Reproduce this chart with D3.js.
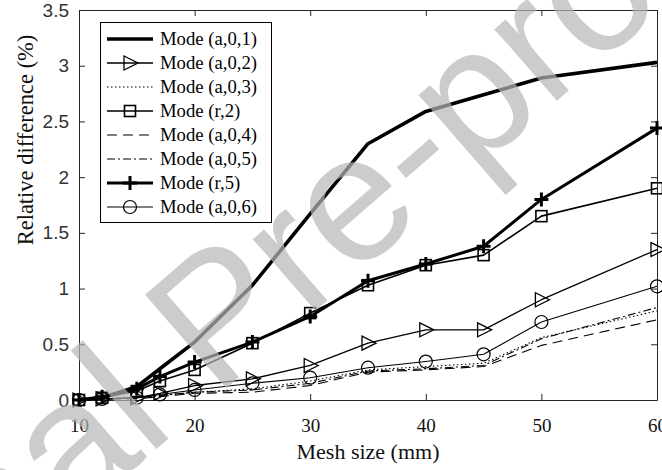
<!DOCTYPE html>
<html>
<head>
<meta charset="utf-8">
<script src="https://cdn.jsdelivr.net/npm/d3@7"></script>
<style>
  body { margin: 0; background: #fff; }
  svg { display: block; }
</style>
</head>
<body>
<script>
// Chart data
var meshSizes = [10, 12, 15, 17, 20, 25, 30, 35, 40, 45, 50, 60];
var modeA01 = [0, 0.02, 0.12, 0.28, 0.52, 1.03, 1.67, 2.30, 2.59, 2.74, 2.89, 3.03];
var modeA02 = [0, 0.01, 0.02, 0.06, 0.13, 0.19, 0.31, 0.51, 0.63, 0.63, 0.90, 1.35];
var modeA03 = [0, 0.01, 0.02, 0.04, 0.07, 0.10, 0.17, 0.27, 0.30, 0.33, 0.56, 0.80];
var modeR2  = [0, 0.02, 0.08, 0.17, 0.27, 0.51, 0.78, 1.03, 1.21, 1.30, 1.65, 1.90];
var modeA04 = [0, 0.01, 0.01, 0.03, 0.06, 0.07, 0.13, 0.25, 0.27, 0.30, 0.49, 0.72];
var modeA05 = [0, 0.01, 0.02, 0.04, 0.07, 0.09, 0.15, 0.26, 0.28, 0.31, 0.55, 0.83];
var modeR5  = [0, 0.03, 0.10, 0.21, 0.34, 0.52, 0.75, 1.07, 1.22, 1.38, 1.80, 2.44];
var modeA06 = [0, 0.01, 0.02, 0.05, 0.09, 0.15, 0.20, 0.29, 0.345, 0.41, 0.70, 1.02];

var seriesNames = ["Mode (a,0,1)", "Mode (a,0,2)", "Mode (a,0,3)", "Mode (r,2)",
                   "Mode (a,0,4)", "Mode (a,0,5)", "Mode (r,5)", "Mode (a,0,6)"];
var xTicks = [10, 20, 30, 40, 50, 60];
var yTicks = [0, 0.5, 1, 1.5, 2, 2.5, 3, 3.5];

// styles per series
var series = [
  { name: seriesNames[0], values: modeA01, width: 3.6, dash: null, marker: null },
  { name: seriesNames[1], values: modeA02, width: 1.3, dash: null, marker: "tri" },
  { name: seriesNames[2], values: modeA03, width: 1.1, dash: "1.5,2.5", marker: null },
  { name: seriesNames[3], values: modeR2,  width: 1.6, dash: null, marker: "square" },
  { name: seriesNames[4], values: modeA04, width: 1.1, dash: "10,6", marker: null },
  { name: seriesNames[5], values: modeA05, width: 1.1, dash: "8,3,2,3", marker: null },
  { name: seriesNames[6], values: modeR5,  width: 3, dash: null, marker: "plus" },
  { name: seriesNames[7], values: modeA06, width: 1.1, dash: null, marker: "circle" }
];

var svgWidth = 662;
var svgHeight = 470;
var margin = { top: 10, right: 5, bottom: 70, left: 79 };
var width = svgWidth - margin.left - margin.right;
var height = svgHeight - margin.top - margin.bottom;

var svg = d3.select("body").append("svg")
  .attr("width", svgWidth)
  .attr("height", svgHeight);

var chartGroup = svg.append("g")
  .attr("transform", `translate(${margin.left}, ${margin.top})`);

var xScale = d3.scaleLinear().domain([10, 60]).range([0, width]);
var yScale = d3.scaleLinear().domain([0, 3.5]).range([height, 0]);

var axisColor = "#262626";

// axes (ticks inward, box all round)
var bottomAxis = d3.axisBottom(xScale).tickValues(xTicks).tickSizeInner(-6).tickSizeOuter(0).tickPadding(19);
var topAxis = d3.axisTop(xScale).tickValues(xTicks).tickSizeInner(-6).tickSizeOuter(0).tickFormat("");
var leftAxis = d3.axisLeft(yScale).tickValues(yTicks).tickSizeInner(-6).tickSizeOuter(0).tickPadding(10).tickFormat(d3.format("~g"));
var rightAxis = d3.axisRight(yScale).tickValues(yTicks).tickSizeInner(-6).tickSizeOuter(0).tickFormat("");

var gx = chartGroup.append("g").attr("transform", `translate(0, ${height})`).call(bottomAxis);
gx.selectAll("text").attr("font-family", "Liberation Serif, Times New Roman, serif")
  .attr("font-size", 19).attr("fill", "#111");
chartGroup.append("g").call(topAxis);
var gy = chartGroup.append("g").call(leftAxis);
gy.selectAll("text").attr("font-family", "Liberation Sans, Arial, sans-serif")
  .attr("font-size", 19).attr("fill", "#333");
chartGroup.append("g").attr("transform", `translate(${width}, 0)`).call(rightAxis);
chartGroup.selectAll(".domain, .tick line").attr("stroke", axisColor).attr("stroke-width", 1);

// lines
var line = d3.line()
  .x(function(d) { return xScale(d[0]); })
  .y(function(d) { return yScale(d[1]); });

function drawMarker(g, type, x, y) {
  if (type === "tri") {
    g.append("path").attr("d", `M${x - 6},${y - 7}L${x + 8},${y}L${x - 6},${y + 7}Z`)
      .attr("fill", "none").attr("stroke", "#000").attr("stroke-width", 1.3);
  } else if (type === "square") {
    g.append("rect").attr("x", x - 5.5).attr("y", y - 5.5).attr("width", 11).attr("height", 11)
      .attr("fill", "none").attr("stroke", "#000").attr("stroke-width", 1.6);
  } else if (type === "circle") {
    g.append("circle").attr("cx", x).attr("cy", y).attr("r", 6.5)
      .attr("fill", "none").attr("stroke", "#000").attr("stroke-width", 1.2);
  } else if (type === "plus") {
    g.append("path").attr("d", `M${x - 7},${y}H${x + 7}M${x},${y - 7}V${y + 7}`)
      .attr("fill", "none").attr("stroke", "#000").attr("stroke-width", 3);
  }
}

var plotGroup = chartGroup.append("g");
series.forEach(function(s) {
  var pts = meshSizes.map(function(m, i) { return [m, s.values[i]]; });
  plotGroup.append("path")
    .datum(pts)
    .attr("d", line)
    .attr("fill", "none")
    .attr("stroke", "#000")
    .attr("stroke-width", s.width)
    .attr("stroke-dasharray", s.dash)
    .attr("stroke-linejoin", "round");
  if (s.marker) {
    pts.forEach(function(p) { drawMarker(plotGroup, s.marker, xScale(p[0]), yScale(p[1])); });
  }
});

// legend
var legend = svg.append("g");
legend.append("rect")
  .attr("x", 100.5).attr("y", 22.5).attr("width", 171).attr("height", 200)
  .attr("fill", "#fff").attr("stroke", "#000").attr("stroke-width", 1);
series.forEach(function(s, i) {
  var y = 39 + i * 24;
  legend.append("line")
    .attr("x1", 107).attr("x2", 153).attr("y1", y).attr("y2", y)
    .attr("stroke", "#000").attr("stroke-width", s.width)
    .attr("stroke-dasharray", s.dash);
  if (s.marker) drawMarker(legend, s.marker, 130, y);
  legend.append("text")
    .attr("x", 160).attr("y", y).attr("dy", "0.33em")
    .attr("font-family", "Liberation Serif, Times New Roman, serif")
    .attr("font-size", 18.7).attr("fill", "#000")
    .text(s.name);
});

// axis labels
svg.append("text")
  .attr("x", margin.left + width / 2).attr("y", 459)
  .attr("text-anchor", "middle")
  .attr("font-family", "Liberation Serif, Times New Roman, serif")
  .attr("font-size", 22).attr("fill", "#111")
  .text("Mesh size (mm)");

svg.append("text")
  .attr("transform", "translate(33, 140) rotate(-90)")
  .attr("text-anchor", "middle")
  .attr("font-family", "Liberation Serif, Times New Roman, serif")
  .attr("font-size", 22.5).attr("fill", "#111")
  .text("Relative difference (%)");

// watermark
svg.append("text")
  .attr("transform", "translate(-268, 818) rotate(-41)")
  .attr("font-family", "Liberation Sans, Arial, sans-serif")
  .attr("font-size", 180)
  .attr("fill", "rgb(182,182,182)").attr("fill-opacity", 0.7)
  .text("Journal Pre-proof");
</script>
</body>
</html>
